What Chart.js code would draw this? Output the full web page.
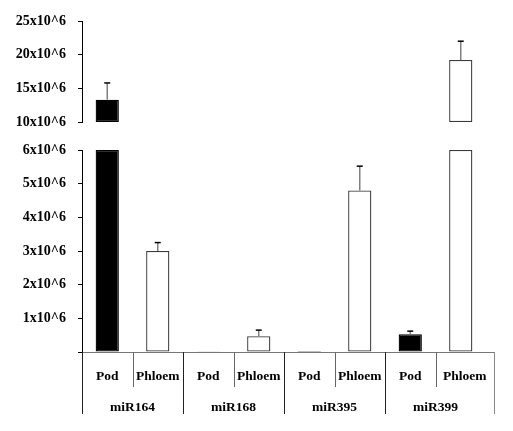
<!DOCTYPE html>
<html>
<head>
<meta charset="utf-8">
<script src="https://cdn.jsdelivr.net/npm/chart.js@4.4.1/dist/chart.umd.min.js"></script>
<style>
  body { margin: 0; background: #fff; }
  #wrap { position: relative; width: 513px; height: 431px; }
  canvas { position: absolute; left: 0; top: 0; }
</style>
</head>
<body>
<div id="wrap">
  <canvas id="upper" width="513" height="431"></canvas>
  <canvas id="lower" width="513" height="431"></canvas>
</div>
<script>
const groups = ['miR164', 'miR168', 'miR395', 'miR399']
const tissues = ['Pod', 'Phloem']
const podValues = [13.3e6, 0.02e6, 0.03e6, 0.53e6]
const podErrors = [2.5e6, 0, 0, 0.09e6]
const phloemValues = [3.0e6, 0.47e6, 4.8e6, 19.2e6]
const phloemErrors = [0.25e6, 0.18e6, 0.72e6, 2.8e6]
const upperTicks = [10e6, 15e6, 20e6, 25e6]
const lowerTicks = [0, 1e6, 2e6, 3e6, 4e6, 5e6, 6e6]

// flatten to one bar per cell: Pod, Phloem, Pod, Phloem ...
const labels = []
const values = []
const errors = []
const tissueOf = []
groups.forEach((g, i) => {
  labels.push(g + ' Pod', g + ' Phloem')
  values.push(podValues[i], phloemValues[i])
  errors.push(podErrors[i], phloemErrors[i])
  tissueOf.push(tissues[0], tissues[1])
})

const lowMax = lowerTicks[lowerTicks.length - 1]
const highMin = upperTicks[0]
const highMax = upperTicks[upperTicks.length - 1]
const font = 'Liberation Serif, Times New Roman, serif'
const tableExtra = 8 // table runs a bit past the last bar cell

const tickLabel = v => (v === 0 ? '' : v / 1e6 + 'x10^6')

const errorBars = {
  id: 'errorBars',
  afterDatasetsDraw(chart) {
    const { ctx } = chart
    const y = chart.scales.y
    const meta = chart.getDatasetMeta(0)
    ctx.save()
    values.forEach((v, i) => {
      if (!errors[i] || v < y.min || v > y.max) return
      const x = meta.data[i].x
      const y0 = y.getPixelForValue(v)
      const y1 = y.getPixelForValue(v + errors[i])
      ctx.strokeStyle = '#808080'
      ctx.lineWidth = 1.5
      ctx.beginPath()
      ctx.moveTo(x, y0)
      ctx.lineTo(x, y1)
      ctx.stroke()
      ctx.strokeStyle = '#000'
      ctx.beginPath()
      ctx.moveTo(x - 3, y1)
      ctx.lineTo(x + 3, y1)
      ctx.stroke()
    })
    ctx.restore()
  }
}

const tableAxis = {
  id: 'tableAxis',
  afterDraw(chart) {
    const { ctx, chartArea } = chart
    const x = chart.scales.x
    const base = chartArea.bottom
    const right = chartArea.right + tableExtra
    const edge = i => {
      if (i === 0) return chartArea.left
      if (i === labels.length) return right
      return (x.getPixelForValue(i - 1) + x.getPixelForValue(i)) / 2
    }
    ctx.save()
    ctx.lineWidth = 1
    ctx.strokeStyle = '#777'
    ctx.beginPath()
    ctx.moveTo(chartArea.left, base + 0.5)
    ctx.lineTo(right, base + 0.5)
    ctx.stroke()

    for (let i = 0; i <= labels.length; i++) {
      const px = Math.round(edge(i)) + 0.5
      const long = i % 2 === 0
      ctx.strokeStyle = i === labels.length ? '#888' : long ? '#222' : '#666'
      ctx.beginPath()
      ctx.moveTo(px, base)
      ctx.lineTo(px, base + (long ? 62 : 35))
      ctx.stroke()
    }

    ctx.fillStyle = '#000'
    ctx.textAlign = 'center'
    ctx.textBaseline = 'middle'
    ctx.font = 'bold 13.5px ' + font
    labels.forEach((l, i) => {
      ctx.fillText(tissueOf[i], (edge(i) + edge(i + 1)) / 2, base + 25)
    })
    groups.forEach((g, i) => {
      const cx = (x.getPixelForValue(2 * i) + x.getPixelForValue(2 * i + 1)) / 2
      ctx.fillText(g, cx, base + 56)
    })
    ctx.restore()
  }
}

const yScale = (min, max, ticks) => ({
  min,
  max,
  afterFit: scale => { scale.width = 82 },
  afterBuildTicks: scale => {
    scale.ticks = ticks.map(v => ({ value: v }))
  },
  border: { display: true, color: '#000', width: 1 },
  grid: { drawOnChartArea: false, tickLength: 4, color: '#000' },
  ticks: {
    padding: 12,
    color: '#000',
    font: { family: font, size: 14, weight: 'bold' },
    callback: tickLabel
  }
})

const makeChart = (id, data, y, padding, plugins) => new Chart(document.getElementById(id), {
  type: 'bar',
  data: {
    labels,
    datasets: [{
      data,
      backgroundColor: ctx => (tissueOf[ctx.dataIndex] === 'Pod' ? '#000' : '#fff'),
      borderColor: ctx => (tissueOf[ctx.dataIndex] === 'Pod' ? '#000' : '#3a3a3a'),
      borderWidth: 1.3,
      borderSkipped: false,
      barPercentage: 0.46,
      categoryPercentage: 1
    }]
  },
  options: {
    responsive: false,
    animation: false,
    devicePixelRatio: 1,
    layout: { padding },
    plugins: { legend: { display: false }, tooltip: { enabled: false } },
    scales: {
      x: { display: false },
      y
    }
  },
  plugins
})

makeChart(
  'upper',
  values.map(v => (v > highMin ? [highMin, v] : null)),
  yScale(highMin, highMax, upperTicks),
  { top: 21, bottom: 431 - 122, right: 19 + tableExtra, left: 0 },
  [errorBars]
)

makeChart(
  'lower',
  values.map(v => Math.min(v, lowMax)),
  yScale(0, lowMax, lowerTicks),
  { top: 150, bottom: 431 - 352, right: 19 + tableExtra, left: 0 },
  [errorBars, tableAxis]
)
</script>
</body>
</html>
